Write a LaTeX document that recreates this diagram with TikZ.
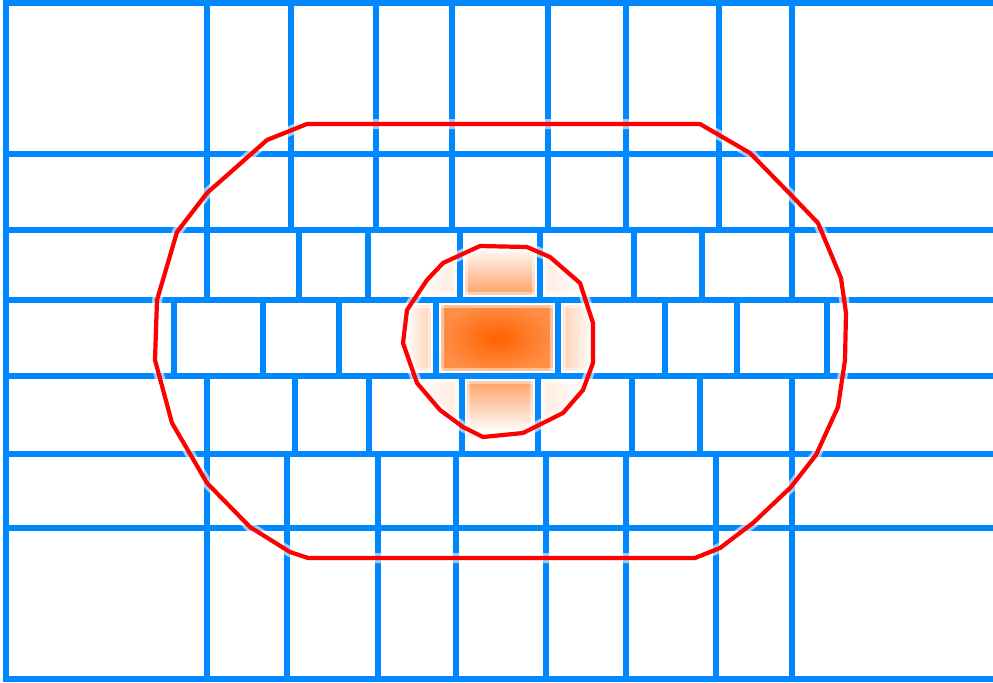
\documentclass[tikz,border=0pt]{standalone}
\definecolor{GridBlue}{RGB}{0, 137, 255}
\definecolor{ZoneRed}{RGB}{255, 0, 0}
\definecolor{HotOrange}{RGB}{255, 98, 0}
\usepackage{tikz}

\begin{document}
\begin{tikzpicture}[
          x=0.5pt, y=-0.5pt,
          grid/.style={GridBlue, line width=2.6pt},
          halo/.style={white, line width=4.6pt},
          softhalo/.style={white, opacity=0.45, line width=8pt},
          zone/.style={ZoneRed, line width=2.1pt, line join=round},
          zonehalo/.style={white, opacity=0.6, line width=5pt, line join=round}
        ]
        \useasboundingbox (0,0) rectangle (993,682);
        % hot spot, clipped to the inner zone
        \begin{scope}
          \clip (480,246) -- (527,247) -- (550,257) -- (580,283) -- (593,323) -- (593,363)
            -- (583,390) -- (563,413) -- (523,433) -- (483,437) -- (463,427) -- (440,410)
            -- (417,383) -- (403,343) -- (407,310) -- (427,280) -- (443,263) -- cycle;
          \shade[inner color=HotOrange, outer color=HotOrange!72] (440,303) rectangle (554,373);
          \shade[top color=white, bottom color=HotOrange!62] (463,245) rectangle (537,297);
          \shade[top color=HotOrange!62, bottom color=white] (465,379) rectangle (535,432);
          \shade[left color=white, right color=HotOrange!30] (404,303) rectangle (433,373);
          \shade[left color=HotOrange!30, right color=white] (561,303) rectangle (594,373);
          \shade[left color=white, right color=HotOrange!12] (410,250) rectangle (457,297);
          \shade[left color=HotOrange!12, right color=white] (543,250) rectangle (590,297);
          \shade[left color=white, right color=HotOrange!12] (410,379) rectangle (459,430);
          \shade[left color=HotOrange!12, right color=white] (541,379) rectangle (590,430);
        \end{scope}
        % cell grid
        \foreach \st in {softhalo, halo, grid} {
          \draw[\st] (6,0) -- (6,682);
          \foreach \y in {3,154,230,300,376,454,528,679}
            \draw[\st] (6,\y) -- (993,\y);
          \foreach \ya/\yb/\xs in {3/230/{207,291,376,452,548,626,719,792},
                                   230/300/{207,299,368,460,540,634,702,792},
                                   300/376/{174,263,339,436,558,665,737,827},
                                   376/454/{207,295,369,462,538,632,700,792},
                                   454/679/{207,287,378,456,546,626,716,792}}
            \foreach \x in \xs
              \draw[\st] (\x,\ya) -- (\x,\yb);
        }
        % zone outlines
        \foreach \st in {zonehalo, zone} {
          \draw[\st] (307,124) -- (267,140) -- (207,193) -- (177,232) -- (157,300) -- (155,360)
            -- (172,423) -- (207,483) -- (250,527) -- (290,552) -- (308,558) -- (695,558)
            -- (720,548) -- (753,523) -- (791,487) -- (816,455) -- (838,407) -- (845,360)
            -- (846,313) -- (841,278) -- (818,223) -- (793,197) -- (750,153) -- (700,124) -- cycle;
          \draw[\st] (480,246) -- (527,247) -- (550,257) -- (580,283) -- (593,323) -- (593,363)
            -- (583,390) -- (563,413) -- (523,433) -- (483,437) -- (463,427) -- (440,410)
            -- (417,383) -- (403,343) -- (407,310) -- (427,280) -- (443,263) -- cycle;
        }
      \end{tikzpicture}
\end{document}
